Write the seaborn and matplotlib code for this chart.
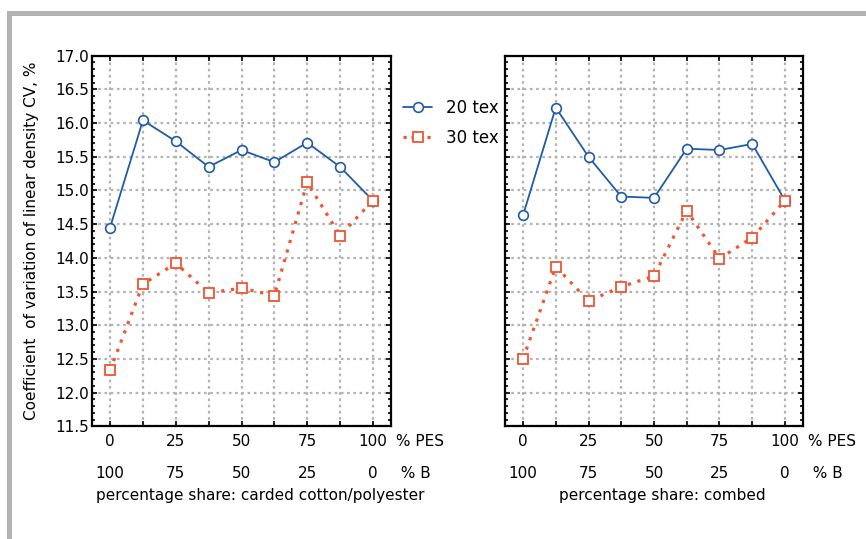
import numpy as np
import pandas as pd
import matplotlib
matplotlib.use("Agg")
import matplotlib.pyplot as plt
import seaborn as sns
from matplotlib.ticker import MultipleLocator
from matplotlib.lines import Line2D
from matplotlib.patches import Rectangle
import matplotlib.transforms as mtransforms

# ---- data ----
positions = [0, 1, 2, 3, 4, 5, 6, 7, 8]
pes_labels = ["0", "", "25", "", "50", "", "75", "", "100"]
b_labels = ["100", "", "75", "", "50", "", "25", "", "0"]
carded_20 = [14.45, 16.04, 15.73, 15.35, 15.60, 15.42, 15.71, 15.35, 14.85]
carded_30 = [12.33, 13.61, 13.92, 13.48, 13.55, 13.44, 15.12, 14.33, 14.85]
combed_20 = [14.63, 16.23, 15.50, 14.91, 14.89, 15.62, 15.60, 15.69, 14.85]
combed_30 = [12.50, 13.87, 13.36, 13.57, 13.73, 14.70, 13.99, 14.30, 14.85]
series_names = ["20 tex", "30 tex"]
xlabels = ["percentage share: carded cotton/polyester", "percentage share: combed"]
ylabel = "Coefficient  of variation of linear density CV, %"

BLUE = "#1f5ca8"
RED = "#f05534"
GRID = "#b3b3b3"
FS = 11

sns.set_style("white")
plt.rcParams["font.family"] = ["DejaVu Sans"]
plt.rcParams["text.color"] = "black"
plt.rcParams["axes.labelcolor"] = "black"
plt.rcParams["xtick.color"] = "black"
plt.rcParams["ytick.color"] = "black"

fig = plt.figure(figsize=(8.66, 5.39), dpi=100)
W, H = 866, 539
def ax_rect(x0, x1, ytop, ybot):
    return [x0 / W, 1 - ybot / H, (x1 - x0) / W, (ybot - ytop) / H]

ax1 = fig.add_axes(ax_rect(92, 391, 55.7, 426.3))
ax2 = fig.add_axes(ax_rect(505, 803, 55.7, 426.3))
AXH = 426.3 - 55.7

panels = [(ax1, carded_20, carded_30), (ax2, combed_20, combed_30)]
for i, (ax, s20, s30) in enumerate(panels):
    df = pd.DataFrame({"x": positions, "a": s20, "b": s30})
    sns.lineplot(data=df, x="x", y="a", ax=ax, color=BLUE, lw=1.3,
                 marker="o", markersize=7, markerfacecolor="white",
                 markeredgecolor=BLUE, markeredgewidth=1.2, zorder=4)
    sns.lineplot(data=df, x="x", y="b", ax=ax, color=RED, lw=2.3,
                 linestyle=(0, (1, 2.1)), marker="s", markersize=7,
                 markerfacecolor="white", markeredgecolor=RED,
                 markeredgewidth=1.3, zorder=5)
    ax.set_xlim(-0.55, 8.55)
    ax.set_ylim(11.5, 17.0)
    ax.set_xticks(positions)
    ax.set_xticklabels([""] * len(positions))
    ax.yaxis.set_major_locator(MultipleLocator(0.5))
    ax.yaxis.set_minor_locator(MultipleLocator(0.1))
    ax.grid(True, axis="both", which="major", color=GRID, linestyle=(0, (1.2, 1.6)), lw=1.6)
    ax.set_axisbelow(True)
    ax.tick_params(axis="both", which="both", direction="in", top=True, right=True,
                   bottom=True, left=True, width=1.2, color="black")
    ax.tick_params(axis="both", which="major", length=3.5)
    ax.tick_params(axis="y", which="minor", length=2)
    ax.tick_params(axis="y", which="major", labelsize=FS, pad=2, labelcolor="black")
    for sp in ax.spines.values():
        sp.set_visible(True)
        sp.set_color("black")
        sp.set_linewidth(1.6)
    ax.set_xlabel("")
    ax.set_ylabel("")
    trans = mtransforms.blended_transform_factory(ax.transData, ax.transAxes)
    y1 = (426.3 - 445.7) / AXH
    y2 = (426.3 - 477.5) / AXH
    for p, lab in zip(positions, pes_labels):
        if lab:
            ax.text(p, y1, lab, transform=trans, ha="center", va="baseline", fontsize=FS)
    for p, lab in zip(positions, b_labels):
        if lab:
            ax.text(p, y2, lab, transform=trans, ha="center", va="baseline", fontsize=FS)
    ax.text(1.0, y1, " % PES", transform=ax.transAxes, ha="left", va="baseline", fontsize=FS)
    ax.text(1.0, y2, "  % B", transform=ax.transAxes, ha="left", va="baseline", fontsize=FS)

ax2.tick_params(axis="y", which="both", labelleft=False)

ax1.set_ylabel(ylabel, fontsize=FS, color="black")
ax1.yaxis.set_label_coords((39 - 92) / 299, 0.5)
fig.text(260 / W, 1 - 500 / H, xlabels[0], ha="center", va="baseline", fontsize=FS)
fig.text(662 / W, 1 - 500 / H, xlabels[1], ha="center", va="baseline", fontsize=FS)

handles = [
    Line2D([], [], color=BLUE, lw=1.3, marker="o", markersize=7,
           markerfacecolor="white", markeredgecolor=BLUE, markeredgewidth=1.2),
    Line2D([], [], color=RED, lw=2.3, linestyle=(0, (1, 1.5)), marker="s", markersize=7,
           markerfacecolor="white", markeredgecolor=RED, markeredgewidth=1.3),
]
fig.legend(handles, series_names, loc="upper left", bbox_to_anchor=(403 / W, 1 - 99 / H),
           frameon=False, fontsize=12, handlelength=1.75, handletextpad=0.85,
           labelspacing=0.7, borderpad=0, borderaxespad=0)

# gray frame
fig.add_artist(Rectangle((7 / W, 1 - 16 / H), 1 - 7 / W, 5 / H, transform=fig.transFigure,
                         color="#b3b3b3", lw=0))
fig.add_artist(Rectangle((7 / W, 0), 5 / W, 1 - 11 / H, transform=fig.transFigure,
                         color="#b3b3b3", lw=0))

fig.savefig("out.png", dpi=100)
